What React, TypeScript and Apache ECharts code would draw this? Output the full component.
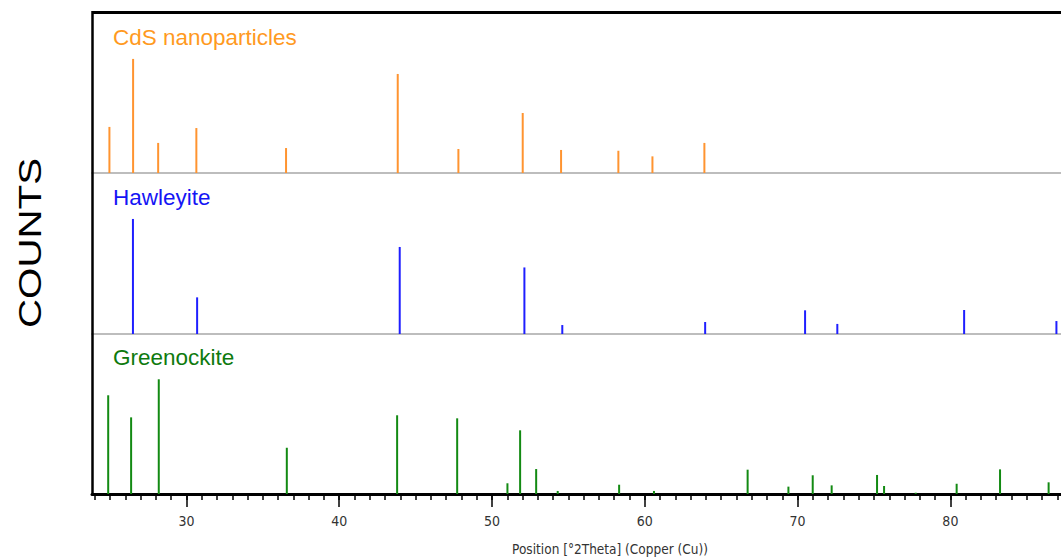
import React, { useEffect, useRef } from "react";
import * as echarts from "echarts";

// Position [°2Theta] and relative counts
const cdsPositions = [24.96, 26.51, 28.15, 30.65, 36.52, 43.83, 47.8, 52.01, 54.52, 58.27, 60.5, 63.9];
const cdsCounts = [28.8, 71.3, 18.8, 28.1, 15.6, 61.9, 15.0, 37.5, 14.4, 13.9, 10.4, 18.8];

const hawleyitePositions = [26.5, 30.7, 43.96, 52.12, 54.6, 63.95, 70.49, 72.6, 80.9, 86.94];
const hawleyiteCounts = [71.9, 22.9, 54.4, 41.6, 5.6, 7.5, 14.8, 6.3, 15.0, 8.1];

const greenockitePositions = [24.88, 26.38, 28.19, 36.57, 43.79, 47.72, 51.01, 51.84, 52.89, 54.3, 58.32, 60.6, 66.73, 69.4, 70.99, 72.23, 75.2, 75.66, 77.73, 80.41, 83.25, 86.43];
const greenockiteCounts = [61.7, 47.9, 71.7, 28.9, 49.2, 47.3, 6.7, 39.8, 15.6, 1.9, 5.8, 1.9, 15.2, 4.6, 11.7, 5.4, 11.9, 5.0, 0.8, 6.4, 15.4, 7.3];

const majorTicks = [30, 40, 50, 60, 70, 80];
const minorTicks = [24, 25, 26, 27, 28, 29, 30, 31, 32, 33, 34, 35, 36, 37, 38, 39, 40, 41, 42, 43, 44, 45, 46, 47, 48, 49, 50, 51, 52, 53, 54, 55, 56, 57, 58, 59, 60, 61, 62, 63, 64, 65, 66, 67, 68, 69, 70, 71, 72, 73, 74, 75, 76, 77, 78, 79, 80, 81, 82, 83, 84, 85, 86, 87];

const panelNames = ["CdS nanoparticles", "Hawleyite", "Greenockite"];

const X_MIN = 23.82;
const X_MAX = 87.24;

const ORANGE = "#FF9430";
const BLUE = "#1F1FFF";
const GREEN = "#138A13";

const zip = (xs: number[], ys: number[]) => xs.map((x, i) => [x, ys[i]]);

export default function App() {
  const ref = useRef<HTMLDivElement>(null);

  useEffect(() => {
    if (!ref.current) return;
    const chart = echarts.init(ref.current, null, { renderer: "svg" });
    const font = "'Liberation Sans', Arial, sans-serif";
    const axisFont = "'DejaVu Sans Condensed', 'Liberation Sans Narrow', 'Liberation Sans', sans-serif";

    const hiddenX = (gridIndex: number) => ({
      type: "value",
      gridIndex,
      position: "bottom",
      min: X_MIN,
      max: X_MAX,
      axisLine: { show: true, onZero: false, lineStyle: { color: "#BDBDBD", width: 2 } },
      axisTick: { show: false },
      axisLabel: { show: false },
      splitLine: { show: false },
    });

    const yAx = (gridIndex: number) => ({
      type: "value",
      gridIndex,
      min: 0,
      max: 100,
      show: false,
    });

    const bar = (name: string, idx: number, data: number[][], color: string) => ({
      type: "bar",
      name,
      xAxisIndex: idx,
      yAxisIndex: idx,
      data,
      barWidth: 2,
      itemStyle: { color },
      silent: true,
    });

    chart.setOption({
      animation: false,
      grid: [
        { left: 92, right: 0, top: 13, height: 160 },
        { left: 92, right: 0, top: 174, height: 160 },
        { left: 92, right: 0, top: 334, height: 160 },
      ],
      xAxis: [
        hiddenX(0),
        hiddenX(1),
        {
          type: "value",
          gridIndex: 2,
          position: "bottom",
          min: X_MIN,
          max: X_MAX,
          axisLine: { show: true, onZero: false, lineStyle: { color: "#000", width: 3 } },
          axisTick: { show: true, customValues: minorTicks, length: 6, lineStyle: { color: "#000", width: 1.5 } },
          axisLabel: { show: false },
          splitLine: { show: false },
        },
        {
          type: "value",
          gridIndex: 2,
          position: "bottom",
          offset: 0,
          min: X_MIN,
          max: X_MAX,
          axisLine: { show: false, onZero: false },
          axisTick: { show: true, customValues: majorTicks, length: 13, lineStyle: { color: "#000", width: 1.5 } },
          axisLabel: {
            show: true,
            customValues: majorTicks,
            margin: 20,
            color: "#333",
            fontSize: 14,
            fontFamily: axisFont,
          },
          splitLine: { show: false },
        },
      ],
      yAxis: [yAx(0), yAx(1), yAx(2)],
      series: [
        bar(panelNames[0], 0, zip(cdsPositions, cdsCounts), ORANGE),
        bar(panelNames[1], 1, zip(hawleyitePositions, hawleyiteCounts), BLUE),
        bar(panelNames[2], 2, zip(greenockitePositions, greenockiteCounts), GREEN),
      ],
      graphic: [
        { type: "line", shape: { x1: 92, y1: 12.5, x2: 1061, y2: 12.5 }, style: { stroke: "#000", lineWidth: 3 }, z: 10 },
        { type: "line", shape: { x1: 92.5, y1: 11, x2: 92.5, y2: 495 }, style: { stroke: "#000", lineWidth: 2.5 }, z: 10 },
        {
          type: "text",
          x: 113,
          y: 37,
          style: { text: panelNames[0], fill: "#FF9A1F", font: `22.5px ${font}`, verticalAlign: "middle" },
        },
        {
          type: "text",
          x: 113,
          y: 197,
          style: { text: panelNames[1], fill: "#1515F5", font: `22.5px ${font}`, verticalAlign: "middle" },
        },
        {
          type: "text",
          x: 113,
          y: 357,
          style: { text: panelNames[2], fill: "#0E7A0E", font: `22.5px ${font}`, verticalAlign: "middle" },
        },
        {
          type: "text",
          x: 30,
          y: 243,
          rotation: Math.PI / 2,
          scaleX: 1.3,
          style: { text: "COUNTS", fill: "#000", font: `31px ${font}`, align: "center", verticalAlign: "middle" },
        },
        {
          type: "text",
          x: 610,
          y: 549,
          style: {
            text: "Position [°2Theta] (Copper (Cu))",
            fill: "#333",
            font: `13.5px ${axisFont}`,
            align: "center",
            verticalAlign: "middle",
          },
        },
      ],
    });

    return () => chart.dispose();
  }, []);

  return (
    <div
      ref={ref}
      style={{ position: "fixed", left: 0, top: 0, width: 1061, height: 558, background: "#fff" }}
    />
  );
}
